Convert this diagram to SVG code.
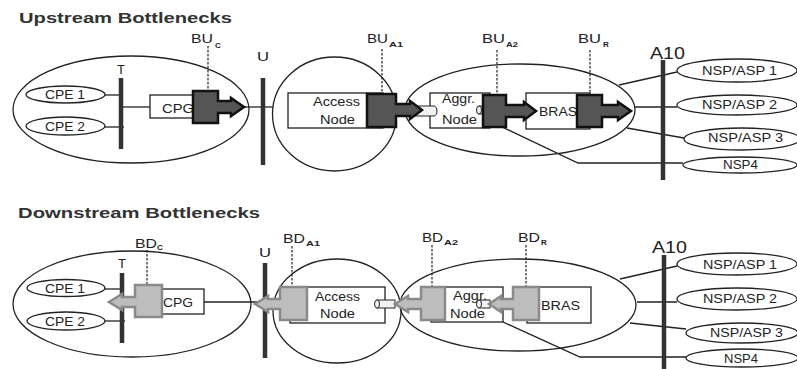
<svg xmlns="http://www.w3.org/2000/svg" width="797" height="369" viewBox="0 0 797 369">
<style>
.big{fill:none;stroke:#222;stroke-width:1.3}
.el{fill:#fff;stroke:#222;stroke-width:1.3}
.box{fill:#fff;stroke:#222;stroke-width:1.3}
.bar{stroke:#333;stroke-width:4.5}
.ln{stroke:#222;stroke-width:1.3;fill:none}
.dash{stroke:#222;stroke-width:1.2;stroke-dasharray:2.5 1.5}
.t{font-family:"Liberation Sans",Arial,sans-serif;font-size:13px;fill:#222}
.h{font-weight:bold;font-size:15px;fill:#333}
.s{font-size:8px;font-weight:bold}
.up{fill:#555;stroke:#111;stroke-width:2.5}
.dn{fill:#bdbdbd;stroke:#8a8a8a;stroke-width:2.5}
.pipe{fill:#f2f2f2;stroke:#222;stroke-width:1}
</style>
<rect width="797" height="369" fill="#fff"/>

<!-- Titles -->
<text class="t h" x="19" y="23" textLength="213" lengthAdjust="spacingAndGlyphs">Upstream Bottlenecks</text>
<text class="t h" x="18" y="218" textLength="242" lengthAdjust="spacingAndGlyphs">Downstream Bottlenecks</text>

<!-- Domains (large enclosures) -->
<g id="customer-domain-up"><ellipse class="big" cx="131" cy="109.5" rx="118" ry="53.5"/></g>
<g id="access-domain-up"><ellipse class="big" cx="334.5" cy="114" rx="62" ry="57"/></g>
<g id="aggr-domain-up"><ellipse class="big" cx="520" cy="110" rx="115" ry="46"/></g>
<g id="customer-domain-dn"><ellipse class="big" cx="132" cy="304" rx="119" ry="53"/></g>
<g id="access-domain-dn"><ellipse class="big" cx="337" cy="311" rx="64" ry="52"/></g>
<g id="aggr-domain-dn"><ellipse class="big" cx="518" cy="305" rx="118" ry="46"/></g>

<!-- Connectors -->
<g id="connectors">
  <line class="ln" x1="105" y1="95" x2="121" y2="95"/>
  <line class="ln" x1="105" y1="127" x2="124" y2="127"/>
  <line class="ln" x1="121" y1="107" x2="150" y2="107"/>
  <line class="ln" x1="243" y1="107" x2="273" y2="107"/>
  <line class="ln" x1="619" y1="85" x2="677" y2="72"/>
  <line class="ln" x1="635" y1="107" x2="677" y2="107"/>
  <line class="ln" x1="627" y1="128" x2="684" y2="138"/>
  <polyline class="ln" points="502,127 578,163 683,163"/>

  <line class="ln" x1="105" y1="289" x2="122" y2="289"/>
  <line class="ln" x1="105" y1="321" x2="125" y2="321"/>
  <line class="ln" x1="204" y1="302" x2="258" y2="302"/>
  <line class="ln" x1="620" y1="279" x2="677" y2="266"/>
  <line class="ln" x1="637" y1="302" x2="677" y2="302"/>
  <line class="ln" x1="630" y1="323" x2="686" y2="329"/>
  <polyline class="ln" points="503,322 580,357 686,357"/>
</g>

<!-- Reference points (bars) -->
<g id="T-up"><line class="bar" x1="121" y1="78" x2="121" y2="149"/><text class="t" x="117" y="74">T</text></g>
<g id="U-up"><line class="bar" x1="263" y1="78" x2="263" y2="165"/><text class="t" x="257" y="61" textLength="12" lengthAdjust="spacingAndGlyphs">U</text></g>
<g id="A10-up"><line class="bar" x1="663" y1="60" x2="663" y2="180"/><text class="t" x="650" y="59" style="font-size:16px" textLength="35" lengthAdjust="spacingAndGlyphs">A10</text></g>
<g id="T-dn"><line class="bar" x1="122" y1="273" x2="122" y2="343"/><text class="t" x="118" y="268">T</text></g>
<g id="U-dn"><line class="bar" x1="265" y1="263" x2="265" y2="358"/><text class="t" x="259" y="257" textLength="12" lengthAdjust="spacingAndGlyphs">U</text></g>
<g id="A10-dn"><line class="bar" x1="664" y1="255" x2="664" y2="369"/><text class="t" x="652" y="253" style="font-size:16px" textLength="35" lengthAdjust="spacingAndGlyphs">A10</text></g>

<!-- Upstream nodes -->
<g id="cpe1-up"><ellipse class="el" cx="65.5" cy="94.5" rx="39.5" ry="8.5"/><text class="t" x="45" y="99" textLength="40" lengthAdjust="spacingAndGlyphs">CPE 1</text></g>
<g id="cpe2-up"><ellipse class="el" cx="65.5" cy="126" rx="39.5" ry="9"/><text class="t" x="45" y="131" textLength="40" lengthAdjust="spacingAndGlyphs">CPE 2</text></g>
<g id="cpg-up"><rect class="box" x="150" y="95" width="45" height="23"/><text class="t" x="162" y="113" textLength="32" lengthAdjust="spacingAndGlyphs">CPG</text></g>
<g id="access-up"><rect class="box" x="288" y="93" width="95" height="35"/><text class="t" x="313" y="106" textLength="47" lengthAdjust="spacingAndGlyphs">Access</text><text class="t" x="320" y="124" textLength="35" lengthAdjust="spacingAndGlyphs">Node</text></g>
<g id="aggr-up"><rect class="box" x="430" y="93" width="60" height="35"/><text class="t" x="442" y="103" textLength="33" lengthAdjust="spacingAndGlyphs">Aggr.</text><text class="t" x="442" y="124" textLength="35" lengthAdjust="spacingAndGlyphs">Node</text></g>
<g id="bras-up"><rect class="box" x="526" y="93" width="64" height="36"/><text class="t" x="539" y="116" textLength="38" lengthAdjust="spacingAndGlyphs">BRAS</text></g>
<g id="nsp1-up"><ellipse class="el" cx="737" cy="70.5" rx="60" ry="11.5"/><text class="t" x="702" y="75" textLength="75" lengthAdjust="spacingAndGlyphs">NSP/ASP 1</text></g>
<g id="nsp2-up"><ellipse class="el" cx="737" cy="105" rx="60" ry="10"/><text class="t" x="702" y="109" textLength="75" lengthAdjust="spacingAndGlyphs">NSP/ASP 2</text></g>
<g id="nsp3-up"><ellipse class="el" cx="742" cy="139" rx="58" ry="11"/><text class="t" x="708" y="142" textLength="75" lengthAdjust="spacingAndGlyphs">NSP/ASP 3</text></g>
<g id="nsp4-up"><ellipse class="el" cx="740" cy="165" rx="57" ry="8"/><text class="t" x="723" y="169" textLength="35" lengthAdjust="spacingAndGlyphs">NSP4</text></g>

<!-- Downstream nodes -->
<g id="cpe1-dn"><ellipse class="el" cx="66" cy="288" rx="39" ry="8.5"/><text class="t" x="45" y="293" textLength="40" lengthAdjust="spacingAndGlyphs">CPE 1</text></g>
<g id="cpe2-dn"><ellipse class="el" cx="66" cy="321" rx="39" ry="9"/><text class="t" x="45" y="326" textLength="40" lengthAdjust="spacingAndGlyphs">CPE 2</text></g>
<g id="cpg-dn"><rect class="box" x="162" y="289" width="42" height="25"/><text class="t" x="163" y="307" textLength="30" lengthAdjust="spacingAndGlyphs">CPG</text></g>
<g id="access-dn"><rect class="box" x="290" y="287" width="95" height="36"/><text class="t" x="315" y="301" textLength="45" lengthAdjust="spacingAndGlyphs">Access</text><text class="t" x="320" y="318" textLength="35" lengthAdjust="spacingAndGlyphs">Node</text></g>
<g id="aggr-dn"><rect class="box" x="431" y="287" width="72" height="35"/><text class="t" x="453" y="300" textLength="34" lengthAdjust="spacingAndGlyphs">Aggr.</text><text class="t" x="450" y="318" textLength="35" lengthAdjust="spacingAndGlyphs">Node</text></g>
<g id="bras-dn"><rect class="box" x="527" y="287" width="64" height="36"/><text class="t" x="541" y="310" textLength="39" lengthAdjust="spacingAndGlyphs">BRAS</text></g>
<g id="nsp1-dn"><ellipse class="el" cx="737" cy="264" rx="60" ry="11"/><text class="t" x="703" y="269" textLength="74" lengthAdjust="spacingAndGlyphs">NSP/ASP 1</text></g>
<g id="nsp2-dn"><ellipse class="el" cx="737" cy="299" rx="60" ry="11"/><text class="t" x="703" y="303" textLength="74" lengthAdjust="spacingAndGlyphs">NSP/ASP 2</text></g>
<g id="nsp3-dn"><ellipse class="el" cx="742" cy="333" rx="56" ry="10"/><text class="t" x="710" y="337" textLength="73" lengthAdjust="spacingAndGlyphs">NSP/ASP 3</text></g>
<g id="nsp4-dn"><ellipse class="el" cx="742" cy="358" rx="56" ry="9"/><text class="t" x="724" y="363" textLength="34" lengthAdjust="spacingAndGlyphs">NSP4</text></g>

<!-- Pipes -->
<g id="pipes">
  <path class="pipe" d="M414,106 H434 A3,5 0 0 1 434,116 H414 Z"/>
  <rect class="pipe" x="479" y="106" width="5" height="8"/>
  <ellipse class="pipe" cx="479" cy="110" rx="2.5" ry="4"/>
  <rect class="pipe" x="377" y="300" width="18" height="8"/>
  <ellipse class="pipe" cx="377" cy="304" rx="2.5" ry="4"/>
  <rect class="pipe" x="479" y="300" width="11" height="8"/>
  <ellipse class="pipe" cx="479" cy="304" rx="2.5" ry="4"/>
</g>

<!-- Upstream bottlenecks -->
<g id="BUc"><line class="dash" x1="208" y1="46" x2="208" y2="91"/><polygon class="up" points="193,91 218,91 218,101 231,101 231,98 244,107 231,116 231,113 218,113 218,123 193,123"/><text class="t" x="191" y="43" textLength="22" lengthAdjust="spacingAndGlyphs">BU</text><text class="t s" x="215" y="48">C</text></g>
<g id="BUA1"><line class="dash" x1="382" y1="49" x2="382" y2="94"/><polygon class="up" points="367,94 396,94 396,104 410,104 410,101 422,110 410,119 410,116 396,116 396,127 367,127"/><text class="t" x="367" y="43" textLength="21" lengthAdjust="spacingAndGlyphs">BU</text><text class="t s" x="389" y="47" textLength="14" lengthAdjust="spacingAndGlyphs">A1</text></g>
<g id="BUA2"><line class="dash" x1="497" y1="50" x2="497" y2="95"/><polygon class="up" points="483,95 506,95 506,105 524,105 524,102 536,111 524,120 524,117 506,117 506,127 483,127"/><text class="t" x="482" y="43" textLength="23" lengthAdjust="spacingAndGlyphs">BU</text><text class="t s" x="506" y="47" textLength="12" lengthAdjust="spacingAndGlyphs">A2</text></g>
<g id="BUR"><line class="dash" x1="590" y1="50" x2="590" y2="95"/><polygon class="up" points="577,95 602,95 602,105 618,105 618,102 631,111 618,120 618,117 602,117 602,127 577,127"/><text class="t" x="578" y="43" textLength="23" lengthAdjust="spacingAndGlyphs">BU</text><text class="t s" x="603" y="47">R</text></g>

<!-- Downstream bottlenecks -->
<g id="BDc"><line class="dash" x1="147" y1="250" x2="147" y2="285"/><polygon class="dn" points="162,285 135,285 135,297 122,297 122,294 109,302 122,310 122,307 135,307 135,317 162,317"/><text class="t" x="135" y="248" textLength="22" lengthAdjust="spacingAndGlyphs">BD</text><text class="t s" x="157" y="250">C</text></g>
<g id="BDA1"><line class="dash" x1="292" y1="246" x2="292" y2="287"/><polygon class="dn" points="307,287 280,287 280,299 268,299 268,296 255,304 268,312 268,309 280,309 280,320 307,320"/><text class="t" x="283" y="243" textLength="22" lengthAdjust="spacingAndGlyphs">BD</text><text class="t s" x="306" y="246" textLength="14" lengthAdjust="spacingAndGlyphs">A1</text></g>
<g id="BDA2"><line class="dash" x1="432" y1="245" x2="432" y2="287"/><polygon class="dn" points="445,287 421,287 421,299 408,299 408,296 395,304 408,312 408,309 421,309 421,320 445,320"/><text class="t" x="422" y="242" textLength="21" lengthAdjust="spacingAndGlyphs">BD</text><text class="t s" x="444" y="245" textLength="14" lengthAdjust="spacingAndGlyphs">A2</text></g>
<g id="BDR"><line class="dash" x1="526" y1="245" x2="526" y2="287"/><polygon class="dn" points="539,287 513,287 513,299 501,299 501,296 489,304 501,312 501,309 513,309 513,320 539,320"/><text class="t" x="518" y="242" textLength="22" lengthAdjust="spacingAndGlyphs">BD</text><text class="t s" x="541" y="245">R</text></g>
</svg>
